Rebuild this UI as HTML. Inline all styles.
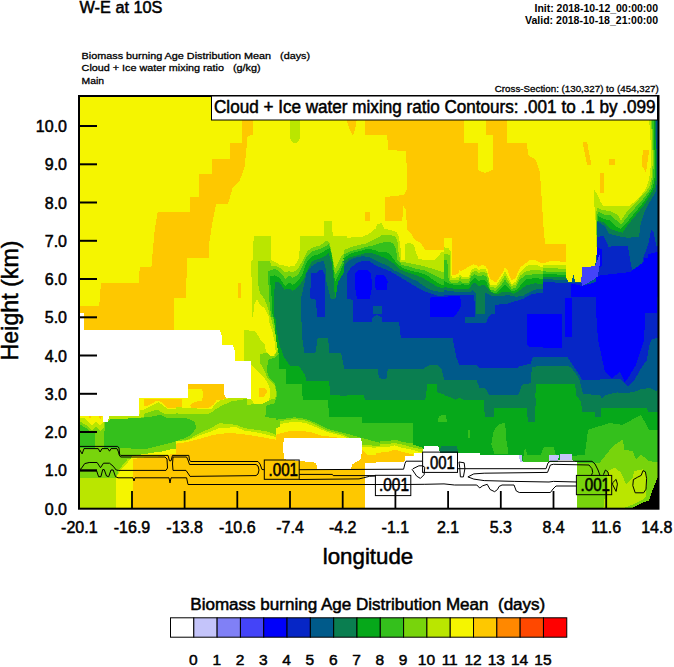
<!DOCTYPE html>
<html><head><meta charset="utf-8">
<style>
html,body{margin:0;padding:0;background:#fff;}
body{width:674px;height:667px;overflow:hidden;}
svg{display:block;}
text{font-family:"Liberation Sans",sans-serif;fill:#000;}
.b{stroke:#000;stroke-width:0.5px;}
.s{stroke:#000;stroke-width:0.28px;}
</style></head><body>
<svg width="674" height="667" viewBox="0 0 674 667">
<!-- titles -->
<text x="79.5" y="13" font-size="16.3" class="b">W-E at 10S</text>
<text x="534.5" y="11.8" font-size="10" font-weight="bold" textLength="123.5" lengthAdjust="spacingAndGlyphs">Init: 2018-10-12_00:00:00</text>
<text x="525" y="23.5" font-size="10" font-weight="bold" textLength="133" lengthAdjust="spacingAndGlyphs">Valid: 2018-10-18_21:00:00</text>
<text x="81.6" y="59.4" font-size="9" class="s" style="white-space:pre" textLength="228.5" lengthAdjust="spacingAndGlyphs">Biomass burning Age Distribution Mean   (days)</text>
<text x="81.6" y="71.2" font-size="9" class="s" style="white-space:pre" textLength="179" lengthAdjust="spacingAndGlyphs">Cloud + Ice water mixing ratio   (g/kg)</text>
<text x="81.6" y="83.5" font-size="9" class="s" textLength="22.5" lengthAdjust="spacingAndGlyphs">Main</text>
<text x="494.8" y="92.1" font-size="9" class="s" textLength="164" lengthAdjust="spacingAndGlyphs">Cross-Section: (130,327) to (454,327)</text>
<!-- plot -->
<g id="plot"><svg x="0" y="0" width="674" height="667"><clipPath id="pc"><rect x="79" y="96" width="579" height="413"/></clipPath><g clip-path="url(#pc)"><g shape-rendering="crispEdges"><rect x="79" y="96" width="579" height="413" fill="#f5f500"/>
<polygon points="241.8,119.0 252.8,119.0 252.8,135.0 247.6,136.0 247.0,143.0 244.7,166.0 240.0,180.0 232.5,188.5 228.0,204.0 216.0,204.5 212.7,221.0 209.4,242.0 209.4,258.3 187.0,258.3 186.0,298.0 174.2,298.0 173.7,330.0 78.0,330.0 78.0,305.7 99.2,305.7 101.0,282.8 138.5,282.8 139.9,266.8 151.4,266.8 153.7,241.0 154.8,229.0 157.7,212.2 190.0,212.2 190.0,197.2 199.4,197.2 199.4,173.8 212.0,173.8 212.0,158.8 230.0,158.8 230.0,142.5 241.8,142.5" fill="#fec800"/>
<polygon points="364.7,119.0 463.7,119.0 463.7,143.0 478.0,143.0 478.0,170.0 485.0,173.0 492.7,170.0 492.7,135.0 486.0,135.0 486.0,119.0 507.0,119.0 507.0,143.0 527.0,143.0 528.0,155.0 536.0,160.0 540.0,173.0 543.6,228.5 545.0,243.7 566.0,243.7 566.0,261.0 550.0,261.0 545.0,263.0 540.0,264.0 536.0,262.0 530.5,261.2 526.0,263.5 520.0,271.0 515.5,280.7 511.0,281.5 508.0,271.0 505.0,267.2 500.5,278.5 496.0,283.0 490.0,278.5 485.5,265.7 481.7,265.0 478.0,267.2 473.5,264.2 469.0,266.5 460.0,271.7 461.0,275.0 459.5,270.0 458.0,275.0 452.5,275.0 451.0,245.0 448.0,239.0 446.0,240.0 444.0,250.0 425.0,250.0 421.0,243.0 415.0,240.0 412.0,235.0 407.0,230.0 406.0,210.0 403.5,206.0 402.2,220.5 385.0,220.5 385.0,197.0 404.0,195.0 407.5,188.0 406.0,151.0 388.5,150.0 387.0,134.5 364.7,134.5" fill="#fec800"/>
<polygon points="346.3,119.0 356.8,119.0 355.0,130.0 353.0,136.0 350.0,130.0" fill="#fec800"/>
<polygon points="365.0,212.0 370.0,212.0 370.0,221.0 365.0,221.0" fill="#fec800"/>
<polygon points="582.5,141.8 587.0,141.8 591.4,165.0 587.0,165.0" fill="#fec800"/>
<polygon points="609.0,158.5 615.0,158.5 615.0,165.0 609.0,165.0" fill="#fec800"/>
<polygon points="643.0,149.6 649.3,149.6 646.0,173.0 641.6,165.0" fill="#fec800"/>
<polygon points="600.4,173.0 603.7,173.0 603.7,193.0 600.4,193.0" fill="#fec800"/>
<polygon points="560.0,244.5 565.7,244.5 565.7,261.7 560.0,261.7" fill="#fec800"/>
<polygon points="290.0,119.0 300.4,119.0 300.4,138.0 297.0,143.0 293.0,143.0 290.0,138.0" fill="#bae600"/>
<polygon points="238.0,283.0 241.0,283.0 241.0,298.0 238.0,298.0" fill="#fec800"/>
<polygon points="443.5,237.5 451.7,237.5 452.2,275.0 458.5,274.2 460.0,270.5 461.5,274.2 469.0,273.5 471.2,266.7 475.0,264.5 478.7,266.7 481.7,266.7 484.7,266.0 487.7,269.7 490.0,281.0 496.0,282.5 502.0,273.5 505.0,267.5 508.0,273.5 511.7,280.2 515.5,278.0 520.0,267.5 526.0,263.0 529.0,260.0 535.0,260.0 541.0,263.0 546.9,263.7 546.9,316.9 443.5,316.9" fill="#f5f500"/>
<polygon points="187.7,384.0 223.7,384.0 224.2,394.5 226.7,399.0 216.2,400.5 213.2,405.0 208.0,408.0 191.5,408.0 190.0,405.0 194.5,402.0 202.0,400.5 203.5,393.0 201.2,388.5 188.5,388.5" fill="#fec800"/>
<polygon points="143.5,399.0 181.7,399.0 181.7,408.0 167.5,408.0 161.5,402.0 157.0,400.5 149.5,405.0 143.5,406.5" fill="#fec800"/>
<polygon points="254.3,236.0 270.5,236.0 271.2,260.0 279.5,264.5 288.5,266.7 294.5,266.0 299.0,258.5 300.5,236.0 323.7,236.0 324.5,221.0 332.0,221.0 332.7,236.0 346.9,236.0 346.9,316.9 269.0,316.9 264.5,308.0 260.0,305.0 257.0,299.0 254.0,305.0 253.2,316.9 251.7,316.9 252.5,299.0 251.7,278.0 250.7,273.5 250.7,261.5 253.2,260.0 253.2,243.5" fill="#bae600"/>
<polygon points="343.5,239.0 351.0,237.5 363.0,236.7 367.5,234.5 372.0,231.5 375.7,228.5 377.2,224.0 381.7,223.2 384.3,228.5 390.0,230.0 396.7,232.2 399.0,237.5 400.8,249.5 401.2,260.0 405.0,260.0 405.0,244.2 409.5,242.7 414.0,245.0 415.5,251.0 418.5,258.5 423.0,260.0 435.0,259.7 438.0,257.0 441.0,252.5 445.0,251.0 446.9,251.0 446.9,316.9 343.5,316.9" fill="#bae600"/>
<polygon points="443.5,247.2 448.7,248.3 450.7,251.7 451.3,275.0 452.5,278.0 458.5,277.2 460.0,274.2 462.2,277.2 469.0,276.5 471.2,270.5 475.0,267.5 478.7,269.7 482.5,269.0 485.5,269.0 487.7,273.5 490.0,284.7 496.0,285.5 501.2,278.0 505.0,271.2 508.7,278.0 511.7,284.0 515.5,281.7 520.0,272.0 526.0,266.7 529.0,264.5 535.0,264.5 541.0,266.7 546.9,267.5 546.9,316.9 443.5,316.9" fill="#bae600"/>
<polygon points="543.3,264.5 565.7,265.3 566.6,279.1 569.1,282.6 571.7,281.7 573.4,274.8 575.2,281.7 581.2,281.7 582.1,267.1 595.0,266.2 596.7,254.1 595.9,223.1 595.0,216.2 593.6,189.5 596.7,192.9 600.5,201.6 602.8,205.9 629.5,205.9 638.1,199.0 645.0,190.3 651.0,180.0 662.2,178.3 662.2,297.2 543.3,297.2" fill="#bae600"/>
<polygon points="649.0,118.0 660.0,118.0 660.0,192.0 645.0,192.0 649.0,180.0 651.5,160.0 650.5,140.0" fill="#bae600"/>
<polygon points="243.5,330.0 245.0,330.0 255.5,331.5 261.5,341.2 264.5,343.5 266.0,351.0 269.0,355.5 273.5,355.8 275.7,352.5 275.0,343.5 272.7,333.0 269.7,324.0 268.2,313.5 346.9,313.5 346.9,416.9 243.5,416.9" fill="#bae600"/>
<polygon points="143.5,409.5 149.5,406.5 158.5,402.0 164.5,406.5 169.0,411.0 190.0,411.0 194.5,408.7 211.0,409.5 215.5,403.5 220.0,400.5 229.0,398.2 246.9,397.5 246.9,416.9 143.5,416.9" fill="#bae600"/>
<polygon points="76.3,414.9 139.1,414.9 140.7,409.9 152.3,409.1 160.5,406.6 167.1,409.1 180.3,409.1 180.3,512.2 76.3,512.2" fill="#bae600"/>
<polygon points="176.3,406.6 181.3,407.4 191.2,408.3 212.7,409.1 217.6,405.0 227.5,401.7 232.5,398.3 280.3,398.3 280.3,512.2 176.3,512.2" fill="#bae600"/>
<polygon points="276.3,398.3 380.3,398.3 380.3,447.9 362.2,447.0 344.0,436.3 327.5,432.2 316.0,427.2 306.1,423.1 294.5,421.5 276.3,424.8" fill="#bae600"/>
<polygon points="376.3,398.3 480.3,398.3 480.3,512.2 422.6,512.2 422.6,452.8 411.0,449.5 402.8,447.9 394.5,445.4 387.9,447.0 376.3,447.0" fill="#bae600"/>
<polygon points="476.3,398.3 580.3,398.3 580.3,449.5 576.5,449.5 576.5,512.2 476.3,512.2" fill="#bae600"/>
<polygon points="558.3,398.3 662.3,398.3 662.3,512.2 558.3,512.2" fill="#bae600"/>
<polygon points="258.0,261.0 270.0,261.0 271.2,266.4 274.8,265.8 279.6,267.6 285.6,272.4 289.2,271.2 292.8,272.4 297.6,269.4 302.4,261.0 307.1,251.4 312.0,247.8 320.0,245.4 326.7,240.5 329.7,242.7 332.0,254.0 335.0,269.0 338.0,263.0 341.7,255.5 347.0,251.0 347.0,317.0 269.7,317.0 269.0,311.0 264.5,299.0 260.0,293.0 258.5,285.5" fill="#78d40c"/>
<polygon points="343.5,250.2 351.0,247.2 358.5,245.0 366.0,243.5 370.5,241.2 378.0,237.5 382.5,234.5 390.0,235.2 395.2,236.0 397.5,242.0 398.7,254.0 400.5,261.5 408.0,263.0 415.5,264.5 423.0,266.0 430.5,268.2 438.0,270.5 445.0,272.7 446.9,273.5 446.9,316.9 343.5,316.9" fill="#78d40c"/>
<polygon points="443.5,254.7 446.5,254.0 449.5,255.5 449.8,279.5 458.5,279.5 460.0,276.5 462.2,279.5 469.0,278.7 471.2,273.5 475.0,270.5 478.7,272.7 483.2,272.0 486.2,272.7 488.5,278.0 490.0,287.0 496.0,287.7 501.2,281.7 505.0,275.0 508.7,281.7 511.7,286.2 515.5,284.7 520.0,275.7 526.0,271.2 535.0,269.7 541.0,270.5 546.9,272.0 546.9,316.9 443.5,316.9" fill="#78d40c"/>
<polygon points="543.3,267.9 565.7,268.8 566.6,279.1 569.1,282.6 571.7,281.7 573.4,274.8 575.2,281.7 581.2,281.7 582.1,267.1 595.0,266.2 596.7,254.1 596.4,223.1 595.9,213.6 597.6,207.6 602.8,210.2 610.5,211.0 617.4,214.5 620.9,220.5 626.0,212.8 632.9,205.9 639.8,198.1 646.7,190.3 652.8,181.7 662.2,178.3 662.2,297.2 543.3,297.2" fill="#78d40c"/>
<polygon points="651.0,118.0 660.0,118.0 660.0,192.0 648.0,192.0 651.5,178.0 653.0,160.0 652.0,140.0" fill="#78d40c"/>
<polygon points="260.0,354.0 267.5,352.5 270.5,356.2 275.0,355.5 277.2,351.0 278.7,345.0 275.0,333.0 272.0,322.5 270.5,313.5 346.9,313.5 346.9,416.9 264.5,416.9 266.0,406.5 272.7,403.5 276.5,394.5 275.0,385.5 267.5,378.0 263.0,367.5 260.0,363.0" fill="#78d40c"/>
<polygon points="143.5,414.0 157.0,409.5 164.5,414.0 209.5,414.0 215.5,409.5 223.0,405.0 232.0,401.2 246.9,399.0 246.9,416.9 143.5,416.9" fill="#78d40c"/>
<polygon points="76.3,416.5 102.8,418.2 109.4,423.1 139.1,418.2 152.3,413.2 160.5,411.6 167.1,414.9 180.3,414.9 180.3,449.5 160.5,452.8 144.0,454.5 127.5,459.4 119.3,469.3 116.0,477.6 76.3,477.6" fill="#78d40c"/>
<polygon points="176.3,413.2 187.9,414.9 202.8,414.9 211.0,413.2 219.3,409.9 227.5,405.0 235.8,403.3 247.3,405.0 260.5,403.3 267.1,400.0 280.3,398.3 280.3,436.3 267.1,431.4 255.6,429.7 244.0,428.1 235.8,424.8 219.3,423.1 211.0,428.1 199.5,433.0 187.9,439.6 176.3,441.3" fill="#78d40c"/>
<polygon points="276.3,398.3 380.3,398.3 380.3,446.2 362.2,444.6 344.0,434.7 327.5,430.5 316.0,424.8 306.1,420.6 294.5,419.0 276.3,421.5" fill="#78d40c"/>
<polygon points="376.3,398.3 480.3,398.3 480.3,512.2 422.6,512.2 422.6,449.5 411.0,447.0 402.8,444.6 394.5,442.9 387.9,444.2 376.3,443.7" fill="#78d40c"/>
<polygon points="476.3,398.3 580.3,398.3 580.3,449.5 576.5,449.5 576.5,512.2 476.3,512.2" fill="#78d40c"/>
<polygon points="558.3,398.3 662.3,398.3 662.3,472.6 652.4,472.6 647.5,475.9 642.5,469.3 634.3,471.0 632.6,477.6 626.0,484.2 621.1,472.6 614.5,467.7 607.9,471.0 602.9,512.2 558.3,512.2" fill="#78d40c"/>
<polygon points="268.0,271.0 270.0,270.6 274.8,268.8 279.6,271.8 285.6,279.0 289.2,275.4 292.8,277.8 297.6,275.4 302.4,265.8 307.1,256.2 312.0,251.4 320.0,249.0 326.0,246.0 329.0,244.2 331.2,251.0 333.5,264.5 335.0,275.0 338.0,270.5 342.5,261.5 347.0,258.0 347.0,317.0 271.2,317.0 269.7,305.0 268.7,290.0" fill="#34c01c"/>
<polygon points="343.5,254.7 351.0,251.0 360.0,248.7 367.5,246.5 375.0,245.0 381.0,242.7 387.0,242.0 393.0,242.7 396.0,249.5 397.5,260.0 402.0,265.2 409.5,266.7 417.0,269.0 424.5,270.5 432.0,274.2 439.5,278.0 445.0,279.5 446.9,281.0 446.9,316.9 343.5,316.9" fill="#34c01c"/>
<polygon points="443.5,260.0 447.2,260.0 448.7,281.0 452.5,283.2 458.5,282.5 460.0,280.2 462.2,283.2 469.0,282.5 471.2,276.5 475.0,274.2 478.7,276.5 483.2,275.0 486.2,276.5 488.5,282.5 490.0,290.0 496.0,290.7 501.2,285.5 505.0,279.5 508.7,284.7 511.7,289.2 515.5,287.7 520.0,279.5 526.0,275.0 535.0,274.2 541.0,274.2 546.9,275.0 546.9,316.9 443.5,316.9" fill="#34c01c"/>
<polygon points="543.3,271.4 565.7,272.2 566.6,279.1 569.1,282.6 571.7,281.7 573.4,274.8 575.2,281.7 581.2,281.7 582.1,267.1 595.0,266.2 596.7,254.1 597.1,223.1 596.7,216.2 598.4,211.9 603.6,214.5 610.5,215.3 615.7,219.7 620.9,224.8 627.8,216.2 634.7,208.4 641.6,200.7 648.4,192.1 653.6,183.4 662.2,180.0 662.2,297.2 543.3,297.2" fill="#34c01c"/>
<polygon points="652.0,118.0 660.0,118.0 660.0,192.0 650.0,192.0 653.0,178.0 654.0,160.0 653.0,140.0" fill="#34c01c"/>
<polygon points="267.5,364.5 267.5,360.0 275.0,357.7 278.7,354.0 277.2,337.5 274.2,324.0 272.7,313.5 346.9,313.5 346.9,416.9 265.2,416.9 267.5,405.0 274.2,403.5 277.2,394.5 275.0,384.0 269.0,378.0 266.7,370.5" fill="#34c01c"/>
<polygon points="76.3,421.5 94.5,421.5 94.5,447.9 76.3,447.9" fill="#34c01c"/>
<polygon points="104.4,423.1 111.0,419.0 139.1,418.2 152.3,416.5 160.5,414.9 167.1,418.2 180.3,418.2 180.3,439.6 170.4,442.9 157.2,446.2 147.3,448.7 135.8,449.5 127.5,447.9 119.3,447.9 104.4,447.9" fill="#34c01c"/>
<polygon points="176.3,418.2 186.3,418.2 194.5,421.5 196.2,428.1 191.2,434.7 183.0,438.8 176.3,439.6" fill="#34c01c"/>
<polygon points="265.5,406.6 270.4,404.1 280.3,403.3 280.3,418.2 270.4,418.2 265.5,414.9" fill="#34c01c"/>
<polygon points="276.3,398.3 380.3,398.3 380.3,442.9 362.2,438.0 347.3,433.8 327.5,428.9 316.0,423.1 306.1,419.0 294.5,417.3 276.3,419.8" fill="#34c01c"/>
<polygon points="376.3,398.3 480.3,398.3 480.3,512.2 422.6,512.2 422.6,447.9 413.5,444.6 412.7,443.2 402.8,442.1 394.5,439.6 387.9,441.3 376.3,441.3" fill="#34c01c"/>
<polygon points="476.3,398.3 580.3,398.3 580.3,449.5 576.5,449.5 576.5,512.2 476.3,512.2" fill="#34c01c"/>
<polygon points="558.3,398.3 662.3,398.3 662.3,462.7 649.1,461.1 640.9,454.5 635.9,459.4 632.6,451.2 624.4,449.5 622.7,439.6 612.8,446.2 599.6,462.7 576.5,462.7 576.5,512.2 558.3,512.2" fill="#34c01c"/>
<polygon points="269.4,276.6 274.8,275.4 279.6,277.8 285.0,286.2 289.2,282.6 292.8,285.0 297.6,281.4 302.4,274.2 307.1,261.0 312.0,256.2 320.0,253.8 326.0,250.2 329.7,248.0 332.0,257.0 333.8,272.0 335.0,282.5 338.7,275.0 343.0,264.5 347.0,261.5 347.0,317.0 272.7,317.0 272.0,305.0 271.2,290.0" fill="#06a81a"/>
<polygon points="343.5,258.5 351.0,253.2 360.0,251.0 367.5,248.7 375.0,250.2 381.0,252.5 385.5,251.7 390.0,254.0 393.0,258.5 397.5,264.5 405.0,269.0 412.5,271.2 420.0,272.7 427.5,275.7 435.0,281.0 441.0,284.7 446.9,286.2 446.9,316.9 343.5,316.9" fill="#06a81a"/>
<polygon points="443.5,281.0 449.5,284.0 458.5,285.5 461.5,284.0 469.0,285.5 471.2,281.0 475.0,278.0 478.7,281.0 483.2,279.5 486.2,281.7 488.5,287.0 491.5,292.2 496.0,293.0 501.2,288.5 505.0,284.0 508.7,288.5 511.7,291.5 517.0,290.0 521.5,284.0 526.0,279.5 535.0,278.0 541.0,278.7 546.9,279.5 546.9,316.9 443.5,316.9" fill="#06a81a"/>
<polygon points="543.3,274.0 565.7,274.8 566.6,279.1 569.1,282.6 571.7,281.7 573.4,274.8 575.2,281.7 581.2,281.7 582.1,267.1 595.0,266.2 596.7,254.1 597.2,223.1 598.4,216.2 603.6,218.8 610.5,220.5 615.7,226.6 620.9,229.1 627.8,221.4 636.4,211.0 643.3,202.4 649.3,193.8 654.5,185.2 662.2,181.7 662.2,297.2 543.3,297.2" fill="#06a81a"/>
<polygon points="653.5,118.0 660.0,118.0 660.0,192.0 652.0,192.0 654.5,178.0 655.0,160.0 654.0,140.0" fill="#06a81a"/>
<polygon points="279.5,369.0 279.2,357.0 276.5,342.0 275.0,330.0 273.8,313.5 346.9,313.5 346.9,416.9 329.0,416.9 328.2,399.7 302.7,399.7 302.0,384.0 286.2,384.0 285.5,369.0" fill="#06a81a"/>
<polygon points="345.0,313.5 446.9,313.5 446.9,416.9 345.0,416.9" fill="#06a81a"/>
<polygon points="445.0,313.5 546.9,313.5 546.9,416.9 445.0,416.9" fill="#06a81a"/>
<polygon points="545.0,293.3 662.2,293.3 662.2,412.2 545.0,412.2" fill="#06a81a"/>
<polygon points="327.5,398.3 380.3,398.3 380.3,423.1 362.2,423.1 361.3,414.9 329.2,414.9" fill="#06a81a"/>
<polygon points="376.3,398.3 480.3,398.3 480.3,512.2 422.6,512.2 422.6,447.9 413.5,444.6 412.7,423.1 376.3,423.1" fill="#06a81a"/>
<polygon points="476.3,398.3 580.3,398.3 580.3,449.5 576.5,449.5 576.5,512.2 476.3,512.2" fill="#06a81a"/>
<polygon points="558.3,398.3 662.3,398.3 662.3,429.7 649.1,429.7 640.9,414.9 622.7,424.8 609.5,423.1 588.1,429.7 584.8,454.5 558.3,454.5" fill="#06a81a"/>
<polygon points="437.4,422.3 439.1,415.7 445.7,414.9 447.3,422.3" fill="#34c01c"/>
<polygon points="467.9,429.7 469.6,429.7 469.6,438.0 467.9,438.0" fill="#34c01c"/>
<polygon points="440.7,446.2 457.2,446.2 458.0,452.8 439.9,452.8" fill="#0a7e50"/>
<polygon points="491.2,444.6 493.7,430.5 499.5,423.9 505.2,423.1 506.1,438.0 508.5,453.6 494.5,453.6" fill="#34c01c"/>
<polygon points="522.6,461.9 525.0,447.0 527.5,454.5 540.7,454.5 544.0,447.0 553.9,447.0 555.6,454.5 558.9,461.9" fill="#34c01c"/>
<polygon points="570.4,456.1 576.5,456.1 576.5,461.9 570.4,461.9" fill="#34c01c"/>
<polygon points="484.6,398.3 535.8,398.3 534.9,422.3 527.5,422.3 527.5,408.3 493.7,408.3 492.9,414.9 484.6,414.9" fill="#0a7e50"/>
<polygon points="274.8,281.4 279.6,282.6 284.4,289.7 289.2,288.6 292.8,291.0 297.6,287.4 302.4,281.4 307.1,270.6 312.0,261.0 320.0,258.6 325.0,256.0 328.5,252.5 331.7,263.0 333.5,278.0 335.0,299.0 337.2,290.0 341.0,279.5 345.0,272.0 347.0,270.0 347.0,317.0 273.5,317.0" fill="#0a7e50"/>
<polygon points="343.5,261.5 351.0,257.0 360.0,254.7 367.5,252.5 375.0,254.0 382.5,257.0 388.5,260.0 393.0,263.0 399.0,269.0 408.0,272.7 415.5,275.0 423.0,278.0 430.5,282.5 438.0,287.0 445.0,288.5 446.9,289.2 446.9,316.9 343.5,316.9" fill="#0a7e50"/>
<polygon points="443.5,287.0 452.5,288.5 460.0,288.5 469.0,289.2 472.0,284.0 475.0,282.5 478.7,286.2 483.2,284.7 487.0,287.0 490.0,291.5 496.0,294.5 502.0,292.2 508.0,291.5 514.0,293.7 520.0,290.0 526.0,285.5 535.0,283.2 541.0,284.0 546.9,284.0 546.9,316.9 443.5,316.9" fill="#0a7e50"/>
<polygon points="543.3,276.6 565.7,277.4 566.6,279.1 569.1,282.6 571.7,281.7 573.4,274.8 575.2,281.7 581.2,281.7 582.1,267.1 595.0,266.2 596.7,254.1 597.2,220.5 603.6,222.2 609.7,228.3 615.7,230.9 622.6,232.6 627.8,224.8 636.4,214.5 643.3,205.9 650.2,195.5 655.3,186.9 662.2,183.4 662.2,297.2 543.3,297.2" fill="#0a7e50"/>
<polygon points="655.0,118.0 660.0,118.0 660.0,192.0 654.0,192.0 656.0,178.0 656.0,160.0 655.5,140.0" fill="#0a7e50"/>
<polygon points="275.0,313.5 276.5,330.0 279.5,345.0 284.0,357.0 290.0,366.0 299.0,366.0 305.0,375.0 306.5,381.0 329.0,381.0 330.5,394.5 345.0,396.0 346.9,396.0 346.9,313.5" fill="#0a7e50"/>
<polygon points="343.5,313.5 446.9,313.5 446.9,394.5 444.0,394.5 437.2,392.2 436.5,384.0 427.5,384.0 425.2,399.7 365.2,399.7 363.7,395.2 343.5,395.2" fill="#0a7e50"/>
<polygon points="443.5,313.5 546.9,313.5 546.9,384.0 535.7,384.0 535.0,416.9 526.7,416.9 526.7,408.0 494.5,408.0 493.7,416.9 484.7,416.9 484.0,399.7 463.0,399.7 460.0,397.5 455.5,399.7 451.0,397.5 443.5,395.2" fill="#0a7e50"/>
<polygon points="543.3,293.3 662.2,293.3 662.2,412.2 648.4,412.2 645.0,402.8 626.0,404.5 601.9,407.1 600.2,412.2 582.1,412.2 581.2,401.9 576.0,395.0 575.2,383.8 543.3,383.8" fill="#0a7e50"/>
<polygon points="581.5,398.3 662.3,398.3 662.3,408.3 601.3,408.3 601.3,416.5 594.7,416.5 594.7,408.3 581.5,408.3" fill="#0a7e50"/>
<polygon points="300.9,316.9 300.9,299.0 303.9,285.5 306.5,273.0 311.1,266.7 317.9,261.8 323.7,261.3 325.5,267.6 326.4,282.0 330.9,299.0 335.4,299.0 338.0,282.0 343.5,273.0 346.9,271.2 346.9,316.9" fill="#005a8a"/>
<polygon points="343.5,266.7 349.5,260.0 355.5,257.7 363.0,256.2 369.0,257.0 375.0,260.0 381.0,263.0 388.5,266.0 394.5,270.5 402.0,274.2 409.5,278.0 417.0,281.0 423.0,285.5 430.5,290.0 438.0,291.5 446.9,293.0 446.9,316.9 343.5,316.9" fill="#005a8a"/>
<polygon points="443.5,290.0 454.0,291.5 463.0,291.5 470.5,292.2 472.7,290.0 475.7,293.0 476.5,316.9 484.7,316.9 484.7,303.5 485.5,293.0 491.5,296.0 499.0,296.0 508.0,295.2 515.5,296.7 523.0,296.0 530.5,291.5 538.0,288.5 546.9,288.5 546.9,316.9 443.5,316.9" fill="#005a8a"/>
<polygon points="543.3,279.1 565.7,280.0 566.6,279.1 569.1,282.6 571.7,281.7 573.4,274.8 575.2,281.7 581.2,281.7 582.1,267.1 595.0,266.2 596.7,254.1 596.7,221.4 604.5,225.7 608.8,233.4 617.4,236.0 627.8,237.8 639.0,236.9 640.7,223.1 644.1,212.8 648.4,204.1 653.6,195.5 658.8,186.9 662.2,185.2 662.2,297.2 543.3,297.2" fill="#005a8a"/>
<polygon points="656.0,118.0 660.0,118.0 660.0,192.0 656.0,192.0 657.0,178.0" fill="#005a8a"/>
<polygon points="301.2,313.5 302.0,336.0 304.2,352.5 315.5,352.5 317.7,337.5 328.2,337.5 329.0,352.5 341.0,352.5 344.0,367.5 346.9,367.5 346.9,313.5" fill="#005a8a"/>
<polygon points="343.5,313.5 446.9,313.5 446.9,379.5 444.0,379.5 441.7,369.0 438.0,365.2 429.0,365.2 423.0,369.0 387.7,369.0 387.0,378.0 383.2,379.5 378.7,377.2 378.0,369.0 343.5,369.0" fill="#005a8a"/>
<polygon points="443.5,313.5 546.9,313.5 546.9,366.0 532.0,366.7 530.5,383.2 522.2,384.7 518.5,394.5 488.5,394.5 485.5,388.5 479.5,387.7 476.5,380.2 443.5,380.2" fill="#005a8a"/>
<polygon points="543.3,293.3 662.2,293.3 662.2,389.8 655.3,390.7 650.2,388.1 641.6,389.0 634.7,391.6 626.0,393.3 617.4,392.4 605.3,395.0 601.9,398.4 600.2,395.0 582.9,394.1 579.5,379.5 575.2,372.6 570.9,367.4 567.4,365.7 543.3,365.7" fill="#005a8a"/>
<polygon points="310.7,273.0 316.7,272.6 319.4,270.3 323.0,270.3 324.8,274.8 325.1,316.9 317.0,316.9 316.1,300.0 310.4,298.2" fill="#0626c6"/>
<polygon points="347.2,273.5 351.0,267.5 357.0,263.0 363.0,260.7 369.0,260.7 375.0,265.2 382.5,268.2 390.0,271.2 397.5,275.7 405.0,280.2 412.5,284.7 420.0,289.2 429.0,293.0 438.0,296.0 446.9,296.7 446.9,316.9 381.7,316.9 381.7,305.7 372.7,305.7 372.7,316.9 352.5,316.9 352.5,299.7 347.2,299.0" fill="#0626c6"/>
<polygon points="443.5,295.2 461.5,295.2 467.5,294.5 473.5,294.5 475.0,303.5 475.0,316.9 443.5,316.9" fill="#0626c6"/>
<polygon points="494.5,305.0 508.0,303.5 515.5,301.2 523.0,299.0 530.5,294.5 538.0,293.0 546.9,293.0 546.9,316.9 494.5,316.9" fill="#0626c6"/>
<polygon points="596.7,236.9 603.6,236.0 608.8,247.2 614.0,245.5 620.9,246.4 627.8,245.5 629.5,255.9 632.9,274.8 639.8,275.7 643.3,257.6 648.4,243.8 651.0,230.0 653.6,231.7 656.2,245.5 662.2,245.5 662.2,297.2 596.7,297.2" fill="#0626c6"/>
<polygon points="543.3,281.7 567.4,283.4 570.9,282.6 581.2,282.6 582.1,285.2 596.7,283.4 596.7,297.2 543.3,297.2" fill="#0626c6"/>
<polygon points="317.0,313.5 323.0,313.5 321.5,316.5 318.5,316.5" fill="#0626c6"/>
<polygon points="352.5,313.5 446.9,313.5 446.9,337.5 400.8,337.5 399.0,321.7 382.5,321.7 381.7,317.2 377.2,315.0 372.7,317.2 372.0,321.7 352.5,321.7" fill="#0626c6"/>
<polygon points="443.5,313.5 465.2,313.5 465.2,323.2 486.2,323.2 488.5,316.5 491.5,313.5 546.9,313.5 546.9,357.0 532.7,357.0 530.5,363.7 518.5,366.7 517.0,368.2 479.5,368.2 476.5,364.5 459.2,364.5 456.2,357.0 454.0,345.0 452.5,337.5 443.5,337.5" fill="#0626c6"/>
<polygon points="543.3,293.3 662.2,293.3 662.2,338.1 657.1,338.1 651.9,339.0 649.3,345.0 646.7,360.5 641.6,367.4 634.7,379.5 627.8,386.4 620.9,379.5 610.5,378.6 600.2,379.5 582.1,379.5 577.8,372.6 570.9,362.2 567.4,357.1 543.3,357.1" fill="#0626c6"/>
<polygon points="355.5,273.5 359.2,269.7 367.5,269.7 371.2,274.2 372.0,287.0 369.7,299.0 357.0,299.0 354.7,285.5" fill="#0000fa"/>
<polygon points="375.7,275.0 384.0,275.0 387.7,281.0 387.0,290.0 375.7,290.0 375.0,281.0" fill="#0000fa"/>
<polygon points="430.5,297.5 445.0,296.7 446.9,296.7 446.9,316.9 429.7,316.9" fill="#0000fa"/>
<polygon points="443.5,296.7 460.0,296.0 461.5,305.0 458.5,311.0 454.0,316.9 443.5,316.9" fill="#0000fa"/>
<polygon points="596.7,247.2 601.9,249.0 601.9,266.2 596.7,267.9" fill="#0000fa"/>
<polygon points="570.9,283.4 582.1,286.0 596.7,281.7 619.1,283.4 619.1,297.2 570.9,297.2" fill="#0000fa"/>
<polygon points="648.4,254.1 655.3,252.4 662.2,252.4 662.2,297.2 645.0,297.2 645.0,276.6" fill="#0000fa"/>
<polygon points="526.7,313.5 546.9,313.5 546.9,347.2 530.5,347.2 526.7,345.0" fill="#0000fa"/>
<polygon points="543.3,314.0 562.2,314.0 562.2,347.6 543.3,347.6" fill="#0000fa"/>
<polygon points="596.0,276.0 612.0,274.0 630.0,272.0 644.0,262.0 646.0,300.0 644.0,340.0 636.0,365.0 628.0,378.0 624.7,382.0 620.0,372.0 612.0,378.0 605.0,372.0 598.0,340.0 596.0,310.0" fill="#0000fa"/>
<polygon points="564.7,298.0 572.0,298.0 572.0,337.0 564.7,337.0" fill="#0000fa"/>
<polygon points="644.0,258.0 657.0,258.0 657.0,313.0 644.0,313.0" fill="#0000fa"/>
<polygon points="645.0,293.3 652.8,293.3 651.0,312.2 646.7,312.2" fill="#0000fa"/>
<polygon points="582.1,267.1 595.0,266.2 599.8,254.1 600.2,262.8 597.6,276.6 593.3,280.0 582.1,286.0 581.2,281.7" fill="#4444f8"/>
<polygon points="79.0,415.0 104.0,415.0 105.0,431.0 100.0,434.0 96.0,430.0 92.0,433.0 86.0,428.0 79.0,424.0" fill="#78d40c"/>
<polygon points="79.0,415.0 103.5,415.0 104.0,428.0 100.0,431.0 96.0,427.0 92.0,430.0 86.0,425.0 79.0,421.0" fill="#bae600"/>
<polygon points="251.0,364.5 258.5,372.0 264.5,378.0 269.0,385.5 270.5,393.0 269.0,400.5 263.0,403.5 254.0,403.5 251.0,399.0" fill="#f5f500"/>
<polygon points="116.0,512.2 116.3,477.6 120.9,469.3 127.5,462.7 132.5,456.1 140.7,454.5 152.3,452.8 163.8,451.2 170.4,449.5 180.3,447.9 180.3,512.2" fill="#f5f500"/>
<polygon points="80.0,415.0 103.0,415.0 102.5,423.0 100.0,426.0 96.0,422.0 92.0,425.0 88.0,422.0 84.0,418.0 80.0,418.0" fill="#f5f500"/>
<polygon points="176.3,441.3 187.9,440.4 199.5,435.5 211.0,431.4 219.3,428.1 235.8,427.2 244.0,430.5 255.6,432.2 267.1,434.7 280.3,438.0 280.3,512.2 176.3,512.2" fill="#f5f500"/>
<polygon points="276.3,428.1 287.9,424.8 299.5,423.1 307.7,424.8 316.0,428.1 325.9,433.0 335.8,434.7 345.7,438.0 362.2,447.9 370.4,449.5 380.3,448.7 380.3,512.2 276.3,512.2" fill="#f5f500"/>
<polygon points="376.3,447.0 387.9,447.0 394.5,445.4 402.8,447.9 411.0,449.5 422.6,452.8 422.6,462.7 376.3,462.7" fill="#f5f500"/>
<polygon points="258.5,388.5 264.5,387.7 267.5,391.5 263.0,397.5 259.2,396.7" fill="#fec800"/>
<polygon points="132.5,512.2 132.5,459.4 140.7,457.8 152.3,456.9 163.8,456.1 170.4,454.5 180.3,452.8 180.3,512.2" fill="#fec800"/>
<polygon points="87.5,415.0 92.2,415.0 90.0,418.5" fill="#fec800"/>
<polygon points="97.6,415.0 102.3,415.0 100.5,419.0" fill="#fec800"/>
<polygon points="176.3,443.7 186.3,442.1 199.5,438.8 214.3,434.7 227.5,433.0 240.7,433.8 257.2,436.3 270.4,438.8 280.3,440.4 280.3,512.2 176.3,512.2" fill="#fec800"/>
<polygon points="276.3,434.7 287.9,431.4 299.5,430.5 311.0,432.2 320.9,435.5 340.7,438.0 362.2,449.5 367.1,454.5 380.3,454.5 380.3,512.2 276.3,512.2" fill="#fec800"/>
<polygon points="376.3,452.8 387.9,452.0 394.5,449.5 402.8,452.0 412.7,454.5 413.5,461.9 376.3,462.4" fill="#fec800"/>
<polygon points="79.0,313.0 84.0,313.0 84.0,330.0 79.0,330.0" fill="#ffffff"/>
<polygon points="80.0,330.0 220.0,330.0 221.5,335.2 222.2,345.0 232.7,345.0 235.0,351.0 235.0,360.7 251.0,360.7 251.0,399.0 245.0,398.2 226.0,398.2 223.7,393.0 223.7,384.0 188.5,384.0 187.7,398.2 139.0,398.2 139.0,415.7 109.0,415.7 108.0,422.0 103.5,422.0 102.5,415.7 80.0,415.7" fill="#ffffff"/>
<polygon points="283.8,438.0 361.3,438.0 362.2,449.5 360.5,459.4 352.3,464.4 350.6,469.3 317.6,469.3 316.0,462.7 284.6,459.4 283.0,449.5" fill="#ffffff"/>
<polygon points="365.5,462.7 380.3,462.7 380.3,512.2 364.6,512.2 364.6,474.3" fill="#ffffff"/>
<polygon points="376.3,462.4 404.4,462.4 405.2,456.1 413.5,456.1 413.5,452.8 422.6,452.8 424.2,446.2 438.2,446.2 439.9,452.8 480.3,452.8 480.3,512.2 376.3,512.2" fill="#ffffff"/>
<polygon points="476.3,454.5 518.4,454.5 520.1,461.9 576.5,461.9 576.5,512.2 476.3,512.2" fill="#ffffff"/>
<polygon points="558.3,460.2 572.4,460.2 576.5,462.7 576.5,512.2 558.3,512.2" fill="#ffffff"/>
<polygon points="518.4,454.5 521.7,454.5 522.6,461.9 520.1,461.9" fill="#c4c4fa"/>
<polygon points="549.0,455.3 558.9,455.3 558.0,461.1 549.0,461.1" fill="#c4c4fa"/>
<polygon points="560.5,455.3 572.1,455.3 572.1,460.2 560.5,460.2" fill="#c4c4fa"/>
<polygon points="560.0,453.6 572.4,453.6 572.4,460.2 560.0,460.2" fill="#c4c4fa"/>
<polygon points="647.8,470.0 657.5,470.0 657.5,478.0 653.1,488.6 649.1,500.4 643.2,502.4 634.0,507.0 628.0,509.5 620.0,509.5 634.0,504.0 642.0,500.0 645.8,497.0" fill="#78d40c"/>
<polygon points="628.0,509.5 634.0,507.0 643.2,502.4 649.1,500.4 653.1,488.6 657.5,478.0 660.0,478.0 660.0,510.0" fill="#000000"/></g><g fill="none" stroke="#000" stroke-width="1.0" stroke-linejoin="round">
<polyline points="79,446.4 117.7,446.4 119,448 119.6,454.2 120.7,455.4 168,455.4 169.5,460.8 171,460.8 172.5,455.4 188.8,455.4 189.5,460 190.5,461.5 258,461.5 260,464 262,469.5 264.3,469.7"/>
<polyline points="299.2,469.7 403.6,469.2 405,463.5 406,461.2 422.6,461.2"/>
<polyline points="457.5,468.7 546,468.7 548,463 550,461.3 592,461.3 595,464 598,470 600,475.4"/>
<polyline points="79,448.6 82.1,453.9 84,448.6 98.2,448.6 100.1,452 102,448.6 108,448.6 109.5,451.2 111,448.6 117,448.6 118.5,452 119.2,455 120.7,457 165,457 167,459 167.5,468 166,470.4 118.5,470.4 116.2,470 113.2,466.2 109.5,463.2 103.5,463.2 100.5,467.7 97.1,462.5 89.2,462.5 84.7,463.6 81,468.9 79,470"/>
<polyline points="79,471 96.7,471 98.6,476.7 100.9,476.7 102.7,469.6 104.2,469.6 106.5,476 108.7,476.7 111,470 113.2,470 115.5,476.7 118,477.8 133,477.8 134,481 135,477.8 169,477.8 170,483 171,477.8 186.6,477.8 188,484.5 405,484.5 424.8,484.3 444,483.9 454.5,485 476.8,485 479.7,488 482.7,485.8 487.2,484.3 490.1,489.5 494.6,491.7 497.5,489.5 499,486.5 502,485 514,485 516.3,491 519.3,492.5 550.4,492.5 553,489 556,486 576.4,486"/>
<polygon points="173,457 186.6,457 188,460 189.5,464.5 256,464.5 258,466 259,470 258,474 256,475.6 190,476.4 188.5,474 186,470.4 173,470.4 172.5,464"/>
<polyline points="299.2,474.4 332.4,474.4 333.2,475.6 375.4,475.6"/>
<polyline points="299.2,479.5 359,478.9 363.6,477.8 369.5,476.3 375.4,476"/>
<polygon points="412.2,469.5 416.7,476.2 420.4,478.4 424.1,474.7 424.8,467.3 422.6,465.8 418.9,465.8 413,468.7"/>
<polygon points="459,462 464.2,462.8 464.9,468.7 463.4,476.9 460.4,476.9 459.7,467.3"/>
<polyline points="591.4,475.4 592.7,472.4 592,468.7 589,465 553.4,464.3 550.4,465 547.5,472.4 484.2,473.2 473.8,473.9 467.9,476.9 473.8,479.1 484.2,480.6 514.8,481.4 549,482 553.4,481.4 577,482"/>
<polyline points="603.4,474.7 605.4,470 608,472 608.7,476"/>
<polygon points="612.7,482.7 616.1,479.4 617.4,484.1 616.1,491.4 612.7,484.7"/>
<polygon points="633.4,479.6 637.6,477.2 641.2,475.4 643,470.6 645.4,471.8 646.6,478.4 646,489.2 643.6,492.8 635.2,492.8 632.8,485.6"/>
</g>
<g fill="none" stroke="#000" stroke-width="1.0">
<rect x="264.3" y="460" width="34.9" height="19.3"/>
<rect x="375.4" y="475.3" width="35.4" height="20.3"/>
<rect x="422.6" y="452.1" width="34.9" height="20.3"/>
<rect x="576.4" y="475.4" width="35.3" height="19.3"/>
</g>
<g font-family="Liberation Sans" font-size="17.5" stroke="#000" stroke-width="0.55">
<text x="268.5" y="476.3" textLength="29.5" lengthAdjust="spacingAndGlyphs">.001</text>
<text x="379" y="491.2" textLength="30" lengthAdjust="spacingAndGlyphs">.001</text>
<text x="425.8" y="468.7" textLength="29" lengthAdjust="spacingAndGlyphs">.001</text>
<text x="580.5" y="490.7" textLength="29.5" lengthAdjust="spacingAndGlyphs">.001</text>
</g>
</g></svg></g>
<!-- frame -->
<rect x="79" y="96" width="579.5" height="412.7" fill="none" stroke="#000" stroke-width="2"/>
<!-- label box -->
<rect x="211.5" y="96" width="446" height="24" fill="#fff" stroke="#000" stroke-width="1"/>
<text x="214" y="112.8" font-size="17.5" class="b" textLength="441.5" lengthAdjust="spacingAndGlyphs">Cloud + Ice water mixing ratio Contours: .001 to .1 by .099</text>
<!-- y ticks -->
<g stroke="#000" stroke-width="2">
<line x1="80" y1="126" x2="97" y2="126"/>
<line x1="80" y1="164.3" x2="97" y2="164.3"/>
<line x1="80" y1="202.5" x2="97" y2="202.5"/>
<line x1="80" y1="240.8" x2="97" y2="240.8"/>
<line x1="80" y1="279" x2="97" y2="279"/>
<line x1="80" y1="317.3" x2="97" y2="317.3"/>
<line x1="80" y1="355.5" x2="97" y2="355.5"/>
<line x1="80" y1="393.8" x2="97" y2="393.8"/>
<line x1="80" y1="432" x2="97" y2="432"/>
<line x1="80" y1="470.3" x2="97" y2="470.3"/>
</g>
<g stroke="#000" stroke-width="1.8">
<line x1="132" y1="491" x2="132" y2="508"/>
<line x1="184.6" y1="491" x2="184.6" y2="508"/>
<line x1="237.3" y1="491" x2="237.3" y2="508"/>
<line x1="290" y1="491" x2="290" y2="508"/>
<line x1="342.7" y1="491" x2="342.7" y2="508"/>
<line x1="395.4" y1="491" x2="395.4" y2="508"/>
<line x1="448.1" y1="491" x2="448.1" y2="508"/>
<line x1="500.8" y1="491" x2="500.8" y2="508"/>
<line x1="553.5" y1="491" x2="553.5" y2="508"/>
<line x1="606.2" y1="491" x2="606.2" y2="508"/>
</g>
<g font-size="16" text-anchor="end" class="b">
<text x="67" y="132">10.0</text>
<text x="67" y="170.3">9.0</text>
<text x="67" y="208.5">8.0</text>
<text x="67" y="246.8">7.0</text>
<text x="67" y="285">6.0</text>
<text x="67" y="323.3">5.0</text>
<text x="67" y="361.5">4.0</text>
<text x="67" y="399.8">3.0</text>
<text x="67" y="438">2.0</text>
<text x="67" y="476.3">1.0</text>
<text x="67" y="514.5">0.0</text>
</g>
<g font-size="16" text-anchor="middle" class="b">
<text x="79.3" y="533">-20.1</text>
<text x="132" y="533">-16.9</text>
<text x="184.6" y="533">-13.8</text>
<text x="237.3" y="533">-10.6</text>
<text x="290" y="533">-7.4</text>
<text x="342.7" y="533">-4.2</text>
<text x="395.4" y="533">-1.1</text>
<text x="448.1" y="533">2.1</text>
<text x="500.8" y="533">5.3</text>
<text x="553.5" y="533">8.4</text>
<text x="606.2" y="533">11.6</text>
<text x="656.8" y="533">14.8</text>
</g>
<text x="368" y="563.5" font-size="22.3" text-anchor="middle" class="b">longitude</text>
<text transform="translate(18.2,300.5) rotate(-90)" font-size="23.2" text-anchor="middle" class="b">Height (km)</text>
<!-- legend -->
<text x="190.3" y="610.2" font-size="16" class="b" style="white-space:pre" textLength="355" lengthAdjust="spacingAndGlyphs">Biomass burning Age Distribution Mean  (days)</text>
<g stroke="#000" stroke-width="1.0">
<rect x="170.50" y="617.8" width="23.31" height="19.4" fill="#ffffff"/>
<rect x="193.81" y="617.8" width="23.31" height="19.4" fill="#c4c4fa"/>
<rect x="217.12" y="617.8" width="23.31" height="19.4" fill="#8080f6"/>
<rect x="240.43" y="617.8" width="23.31" height="19.4" fill="#4444f8"/>
<rect x="263.74" y="617.8" width="23.31" height="19.4" fill="#0000fa"/>
<rect x="287.05" y="617.8" width="23.31" height="19.4" fill="#0626c6"/>
<rect x="310.36" y="617.8" width="23.31" height="19.4" fill="#005a8a"/>
<rect x="333.67" y="617.8" width="23.31" height="19.4" fill="#0a7e50"/>
<rect x="356.98" y="617.8" width="23.31" height="19.4" fill="#06a81a"/>
<rect x="380.29" y="617.8" width="23.31" height="19.4" fill="#34c01c"/>
<rect x="403.60" y="617.8" width="23.31" height="19.4" fill="#78d40c"/>
<rect x="426.91" y="617.8" width="23.31" height="19.4" fill="#bae600"/>
<rect x="450.22" y="617.8" width="23.31" height="19.4" fill="#f5f500"/>
<rect x="473.53" y="617.8" width="23.31" height="19.4" fill="#fec800"/>
<rect x="496.84" y="617.8" width="23.31" height="19.4" fill="#ff8800"/>
<rect x="520.15" y="617.8" width="23.31" height="19.4" fill="#ff4800"/>
<rect x="543.46" y="617.8" width="23.31" height="19.4" fill="#ff0000"/>
</g>
<g font-size="15.5" text-anchor="middle" class="b">
<text x="193.4" y="664.8">0</text>
<text x="216.7" y="664.8">1</text>
<text x="240" y="664.8">2</text>
<text x="263.3" y="664.8">3</text>
<text x="286.6" y="664.8">4</text>
<text x="309.9" y="664.8">5</text>
<text x="333.2" y="664.8">6</text>
<text x="356.5" y="664.8">7</text>
<text x="379.8" y="664.8">8</text>
<text x="403.1" y="664.8">9</text>
<text x="426.4" y="664.8">10</text>
<text x="449.7" y="664.8">11</text>
<text x="473" y="664.8">12</text>
<text x="496.3" y="664.8">13</text>
<text x="519.6" y="664.8">14</text>
<text x="542.9" y="664.8">15</text>
</g>
</svg>
</body></html>
